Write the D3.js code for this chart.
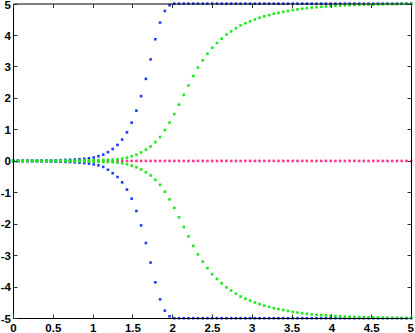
<!DOCTYPE html>
<html>
<head>
<meta charset="utf-8">
<script src="https://cdn.jsdelivr.net/npm/d3@7"></script>
<style>
  html, body { margin: 0; padding: 0; background: #fff; }
  svg { display: block; }
  .lbl { font-family: "Liberation Sans", Arial, sans-serif; font-weight: bold; font-size: 11.5px; fill: #000; }
</style>
</head>
<body>
<div id="chart"></div>
<script>
//x samples
var xs = [0, 0.060, 0.119, 0.179, 0.238, 0.298, 0.357, 0.417, 0.476, 0.536,
  0.595, 0.655, 0.714, 0.774, 0.833, 0.893, 0.952, 1.012, 1.071, 1.131,
  1.190, 1.250, 1.310, 1.369, 1.429, 1.488, 1.548, 1.607, 1.667, 1.726,
  1.786, 1.845, 1.905, 1.964, 2.024, 2.083, 2.143, 2.202, 2.262, 2.321,
  2.381, 2.440, 2.500, 2.560, 2.619, 2.679, 2.738, 2.798, 2.857, 2.917,
  2.976, 3.036, 3.095, 3.155, 3.214, 3.274, 3.333, 3.393, 3.452, 3.512,
  3.571, 3.631, 3.690, 3.750, 3.810, 3.869, 3.929, 3.988, 4.048, 4.107,
  4.167, 4.226, 4.286, 4.345, 4.405, 4.464, 4.524, 4.583, 4.643, 4.702,
  4.762, 4.821, 4.881, 4.940, 5.000];

//blue branches
var blueUpper = [0.002, 0.003, 0.004, 0.005, 0.006, 0.008, 0.010, 0.012, 0.015, 0.019,
  0.024, 0.030, 0.036, 0.044, 0.054, 0.068, 0.085, 0.11, 0.15, 0.20,
  0.28, 0.38, 0.51, 0.68, 0.91, 1.22, 1.60, 2.06, 2.61, 3.23,
  3.87, 4.40, 4.77, 4.95, 5, 5, 5, 5, 5, 5,
  5, 5, 5, 5, 5, 5, 5, 5, 5, 5,
  5, 5, 5, 5, 5, 5, 5, 5, 5, 5,
  5, 5, 5, 5, 5, 5, 5, 5, 5, 5,
  5, 5, 5, 5, 5, 5, 5, 5, 5, 5,
  5, 5, 5, 5, 5];
var blueLower = [-0.002, -0.003, -0.004, -0.005, -0.006, -0.008, -0.010, -0.012, -0.015, -0.019,
  -0.024, -0.030, -0.036, -0.044, -0.054, -0.068, -0.085, -0.11, -0.14, -0.19,
  -0.28, -0.39, -0.51, -0.68, -0.91, -1.20, -1.59, -2.05, -2.61, -3.23,
  -3.86, -4.40, -4.76, -4.94, -5, -5, -5, -5, -5, -5,
  -5, -5, -5, -5, -5, -5, -5, -5, -5, -5,
  -5, -5, -5, -5, -5, -5, -5, -5, -5, -5,
  -5, -5, -5, -5, -5, -5, -5, -5, -5, -5,
  -5, -5, -5, -5, -5, -5, -5, -5, -5, -5,
  -5, -5, -5, -5, -5];

//green branches
var greenUpper = [0.001, 0.001, 0.002, 0.002, 0.003, 0.003, 0.004, 0.005, 0.006, 0.007,
  0.008, 0.009, 0.011, 0.013, 0.015, 0.017, 0.020, 0.023, 0.027, 0.031,
  0.036, 0.042, 0.055, 0.075, 0.105, 0.15, 0.20, 0.27, 0.36, 0.46,
  0.60, 0.76, 0.98, 1.22, 1.49, 1.79, 2.10, 2.40, 2.70, 2.97,
  3.20, 3.41, 3.60, 3.75, 3.89, 4.02, 4.12, 4.22, 4.31, 4.38,
  4.44, 4.50, 4.55, 4.60, 4.64, 4.68, 4.71, 4.74, 4.77, 4.80,
  4.82, 4.84, 4.86, 4.88, 4.89, 4.90, 4.91, 4.92, 4.93, 4.94,
  4.95, 4.955, 4.96, 4.965, 4.97, 4.975, 4.978, 4.98, 4.983, 4.986,
  4.988, 4.99, 4.992, 4.994, 4.995];
var greenLower = [-0.001, -0.001, -0.002, -0.002, -0.003, -0.003, -0.004, -0.005, -0.006, -0.007,
  -0.008, -0.009, -0.011, -0.013, -0.015, -0.017, -0.020, -0.023, -0.027, -0.031,
  -0.036, -0.042, -0.055, -0.075, -0.105, -0.15, -0.20, -0.27, -0.36, -0.46,
  -0.60, -0.76, -0.98, -1.22, -1.49, -1.79, -2.10, -2.40, -2.70, -2.97,
  -3.20, -3.41, -3.60, -3.75, -3.89, -4.02, -4.12, -4.22, -4.31, -4.38,
  -4.44, -4.50, -4.55, -4.60, -4.64, -4.68, -4.71, -4.74, -4.77, -4.80,
  -4.82, -4.84, -4.86, -4.88, -4.89, -4.90, -4.91, -4.92, -4.93, -4.94,
  -4.95, -4.955, -4.96, -4.965, -4.97, -4.975, -4.978, -4.98, -4.983, -4.986,
  -4.988, -4.99, -4.992, -4.994, -4.995];

//flat branch
var pinkZero = [0, 0, 0, 0, 0, 0, 0, 0, 0, 0,
  0, 0, 0, 0, 0, 0, 0, 0, 0, 0,
  0, 0, 0, 0, 0, 0, 0, 0, 0, 0,
  0, 0, 0, 0, 0, 0, 0, 0, 0, 0,
  0, 0, 0, 0, 0, 0, 0, 0, 0, 0,
  0, 0, 0, 0, 0, 0, 0, 0, 0, 0,
  0, 0, 0, 0, 0, 0, 0, 0, 0, 0,
  0, 0, 0, 0, 0, 0, 0, 0, 0, 0,
  0, 0, 0, 0, 0];

var xTicks = [0, 0.5, 1, 1.5, 2, 2.5, 3, 3.5, 4, 4.5, 5];
var yTicks = [-5, -4, -3, -2, -1, 0, 1, 2, 3, 4, 5];

///////////////////////////////////////////////////////////////////////////
//////////////////////////////// Set up svg ///////////////////////////////
///////////////////////////////////////////////////////////////////////////

var width = 415, height = 333;

var svg = d3.select("#chart").append("svg")
	.attr("width", width)
	.attr("height", height);

var x = d3.scaleLinear().domain([0, 5]).range([13.5, 411.5]);
var y = d3.scaleLinear().domain([-5, 5]).range([318.5, 4]);

//draw order: pink, blue, green on top
var series = [
	{ values: pinkZero, color: "#ff3a8c" },
	{ values: blueUpper, color: "#1c3cff" },
	{ values: blueLower, color: "#1c3cff" },
	{ values: greenUpper, color: "#1ee81e" },
	{ values: greenLower, color: "#1ee81e" }
];

var dots = svg.append("g").attr("class", "dots");
series.forEach(function(s) {
	dots.append("g").selectAll("rect")
		.data(s.values)
		.enter().append("rect")
		.attr("x", function(d, i) { return x(xs[i]) - 1.6; })
		.attr("y", function(d) { return y(d) - 1.6; })
		.attr("width", 2.6)
		.attr("height", 2.6)
		.style("fill", s.color);
});

///////////////////////////////////////////////////////////////////////////
//////////////////////////////// Axes /////////////////////////////////////
///////////////////////////////////////////////////////////////////////////

var axes = svg.append("g").attr("class", "axes");

//box
axes.append("line").attr("x1", 13.5).attr("x2", 411.5).attr("y1", 4).attr("y2", 4)
	.style("stroke", "#000").style("stroke-width", 1);
axes.append("line").attr("x1", 13.5).attr("x2", 411.5).attr("y1", 318.5).attr("y2", 318.5)
	.style("stroke", "#000").style("stroke-width", 1);
axes.append("line").attr("x1", 13.5).attr("x2", 13.5).attr("y1", 4).attr("y2", 318.5)
	.style("stroke", "#000").style("stroke-width", 1);
axes.append("line").attr("x1", 411.5).attr("x2", 411.5).attr("y1", 4).attr("y2", 318.5)
	.style("stroke", "#000").style("stroke-width", 1);

//inward ticks
var tl = 4;
xTicks.forEach(function(t) {
	var px = Math.round(x(t) - 0.5) + 0.5;
	axes.append("line").attr("x1", px).attr("x2", px).attr("y1", 318.5).attr("y2", 318.5 - tl)
		.style("stroke", "#333");
	axes.append("line").attr("x1", px).attr("x2", px).attr("y1", 4).attr("y2", 4 + tl)
		.style("stroke", "#333");
	axes.append("text").attr("class", "lbl")
		.attr("x", t === 5 ? 414 : x(t))
		.attr("y", 332)
		.attr("text-anchor", t === 5 ? "end" : "middle")
		.text(d3.format("")(t));
});
yTicks.forEach(function(t) {
	var py = Math.round(y(t) - 0.5) + 0.5;
	axes.append("line").attr("x1", 13.5).attr("x2", 13.5 + tl).attr("y1", py).attr("y2", py)
		.style("stroke", "#333");
	axes.append("line").attr("x1", 411.5).attr("x2", 411.5 - tl).attr("y1", py).attr("y2", py)
		.style("stroke", "#333");
	axes.append("text").attr("class", "lbl")
		.attr("x", 11)
		.attr("y", t === 5 ? y(t) + 1 : y(t))
		.attr("dy", "0.36em")
		.attr("text-anchor", "end")
		.text(t);
});
</script>
</body>
</html>
